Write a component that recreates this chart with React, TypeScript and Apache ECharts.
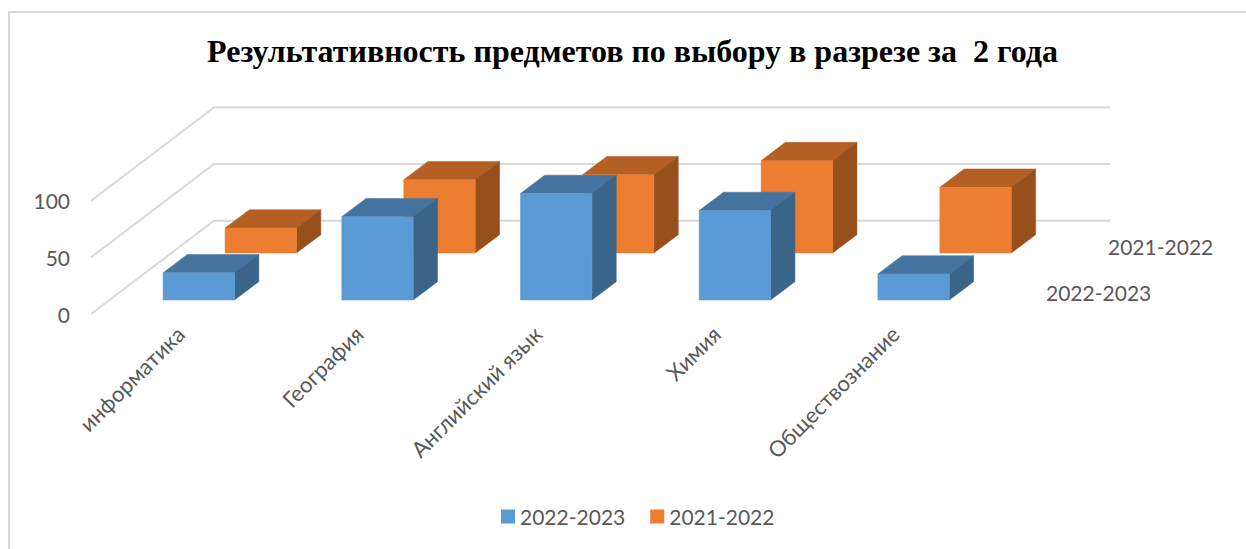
import React, { useEffect, useRef } from "react";
import * as echarts from "echarts";

const title = "Результативность предметов по выбору в разрезе за  2 года";
const categories = ["информатика", "География", "Английский язык", "Химия", "Обществознание"];
const seriesNames = ["2022-2023", "2021-2022"];
const values2022 = [24, 73.5, 94, 79, 23];
const values2021 = [22, 64.7, 69, 81.5, 58];
const valueTicks = [0, 50, 100];

const FONT = "Lato, 'Noto Sans', sans-serif";
const TEXT = "#595959";
const WALL = "#D9D9D9";
const WALL_DX = 123;
const WALL_DY = 93.3;
const WALL_EXTRA = 2.5;
const BAR_DX = 24.3;
const BAR_DY = 18.3;
const BAR_RATIO = 0.4;

function barRenderer(depth: number, front: string, top: string, side: string) {
  return (_params: any, api: any) => {
    const cat = api.value(0);
    const base = api.coord([cat, 0]);
    const head = api.coord([cat, api.value(1)]);
    const w = api.size([1, 0])[0] * BAR_RATIO;
    const ox = depth * WALL_DX;
    const oy = -depth * WALL_DY;
    const l = base[0] - w / 2 + ox;
    const r = base[0] + w / 2 + ox;
    const b = base[1] + oy;
    const t = head[1] + oy;
    const poly = (points: number[][], fill: string) => ({
      type: "polygon",
      shape: { points },
      style: { fill, stroke: fill, lineWidth: 0.5 },
    });
    return {
      type: "group",
      children: [
        poly([[l, t], [r, t], [r + BAR_DX, t - BAR_DY], [l + BAR_DX, t - BAR_DY]], top),
        poly([[r, t], [r + BAR_DX, t - BAR_DY], [r + BAR_DX, b - BAR_DY], [r, b]], side),
        poly([[l, t], [r, t], [r, b], [l, b]], front),
      ],
    };
  };
}

function wallRenderer(params: any, api: any) {
  const sys = params.coordSys;
  const y = api.coord([0, api.value(1)])[1];
  return {
    type: "polyline",
    shape: {
      points: [
        [sys.x, y],
        [sys.x + WALL_DX, y - WALL_DY],
        [sys.x + sys.width + WALL_DX + WALL_EXTRA, y - WALL_DY],
      ],
    },
    style: { fill: "none", stroke: WALL, lineWidth: 2 },
  };
}

export default function App() {
  const ref = useRef<HTMLDivElement>(null);
  useEffect(() => {
    const chart = echarts.init(ref.current!, undefined, { renderer: "svg" });
    chart.setOption({
      animation: false,
      backgroundColor: "#fff",
      title: {
        text: title,
        left: 627.5,
        top: 30,
        textAlign: "center",
        textStyle: { fontFamily: "'Liberation Serif', serif", fontWeight: "bold", fontSize: 32, color: "#000" },
      },
      legend: {
        data: seriesNames,
        top: 506,
        left: 501,
        padding: 0,
        icon: "rect",
        itemWidth: 14,
        itemHeight: 14,
        itemGap: 25,
        selectedMode: false,
        textStyle: { fontFamily: FONT, fontSize: 21, color: TEXT },
      },
      grid: { left: 91, width: 893.5, top: 200.7, height: 113.3 },
      xAxis: {
        type: "category",
        data: categories,
        axisLine: { show: false },
        axisTick: { show: false },
        axisLabel: { interval: 0, rotate: 45, margin: 16, fontFamily: FONT, fontSize: 22, color: TEXT },
      },
      yAxis: {
        type: "value",
        min: 0,
        max: 100,
        interval: 50,
        splitLine: { show: false },
        axisLine: { show: false },
        axisTick: { show: false },
        axisLabel: { margin: 21, fontFamily: FONT, fontSize: 21, color: TEXT },
      },
      series: [
        {
          type: "custom",
          name: "walls",
          silent: true,
          z: 1,
          data: valueTicks.map((v) => [0, v]),
          encode: { x: 0, y: 1 },
          renderItem: wallRenderer,
        },
        {
          type: "custom",
          name: seriesNames[1],
          z: 2,
          itemStyle: { color: "#ED7D31" },
          data: values2021.map((v, i) => [i, v]),
          encode: { x: 0, y: 1 },
          renderItem: barRenderer(0.654, "#ED7D31", "#B45F23", "#974F1C"),
        },
        {
          type: "custom",
          name: seriesNames[0],
          z: 3,
          itemStyle: { color: "#5B9BD5" },
          data: values2022.map((v, i) => [i, v]),
          encode: { x: 0, y: 1 },
          renderItem: barRenderer(0.15, "#5B9BD5", "#44749F", "#3A6589"),
        },
      ],
      graphic: [
        {
          type: "polyline",
          silent: true,
          shape: { points: [[9, 549], [9, 12], [1246, 12]] },
          style: { fill: "none", stroke: WALL, lineWidth: 2 },
        },
        {
          type: "text",
          x: 1108,
          y: 246,
          style: { text: seriesNames[1], fontFamily: FONT, fontSize: 21, fill: TEXT, verticalAlign: "middle" },
        },
        {
          type: "text",
          x: 1046,
          y: 292,
          style: { text: seriesNames[0], fontFamily: FONT, fontSize: 21, fill: TEXT, verticalAlign: "middle" },
        },
      ],
    });
    return () => chart.dispose();
  }, []);
  return <div ref={ref} style={{ position: "fixed", left: 0, top: 0, width: 1246, height: 549, background: "#fff" }} />;
}
